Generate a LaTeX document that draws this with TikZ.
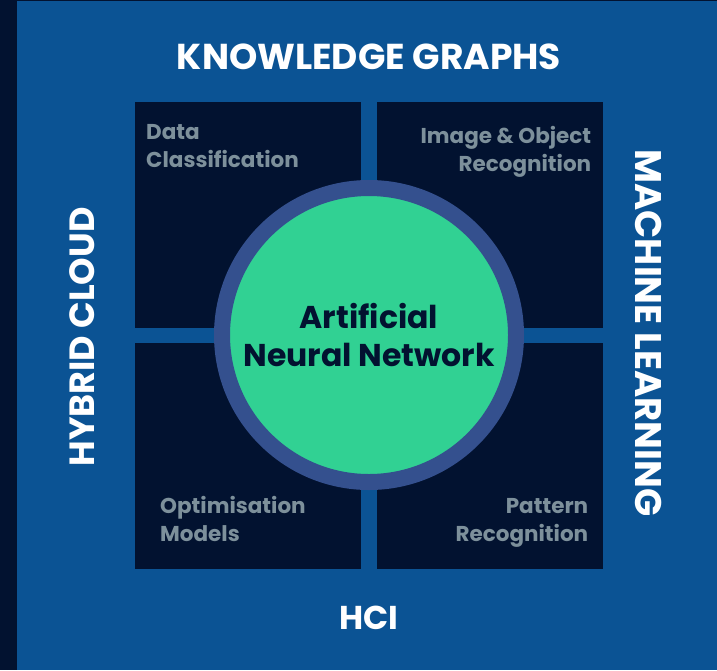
\documentclass[tikz,border=0pt]{standalone}
\usepackage{fontspec}
\setmainfont{Poppins}
\usepackage{xcolor}
\usetikzlibrary{positioning}

\definecolor{bgBlue}{HTML}{0B5394}
\definecolor{navy}{HTML}{021230}
\definecolor{ringBlue}{HTML}{34508E}
\definecolor{annGreen}{HTML}{31D193}
\definecolor{tileGray}{HTML}{7D909B}

\newcommand{\headsize}[1]{\fontsize{#1}{#1}\selectfont\bfseries}

\begin{document}
\begin{tikzpicture}[
  x=1pt, y=-1pt,
  tile/.style={rectangle, fill=navy, inner sep=0pt, minimum width=226pt, minimum height=226pt, anchor=north west},
  tiletext/.style={inner sep=0pt, font=\fontsize{21.5}{28}\selectfont\bfseries, text=tileGray},
  heading/.style={inner sep=0pt, text=white},
  core/.style={circle, fill=annGreen, draw=ringBlue, line width=16pt, minimum size=294pt, inner sep=0pt, align=center, font=\fontsize{31.5}{38}\selectfont\bfseries, text=navy}
]
% background
\fill[navy] (0,0) rectangle (717,670);
\fill[bgBlue] (17,1) rectangle (717,670);
\useasboundingbox (0,0) rectangle (717,670);

% four tiles
\node[tile] (dataTile) at (135,102) {};
\node[tile] (imageTile) at (377,102) {};
\node[tile] (optTile) at (135,343) {};
\node[tile] (patternTile) at (377,343) {};

% tile labels (base = last line)
\node[tiletext, anchor=base west, align=left] (dataText) at ([xshift=11pt, yshift=-65pt]dataTile.north west) {Data\\Classification};
\node[tiletext, anchor=base east, align=right] (imageText) at ([xshift=-12pt, yshift=-69pt]imageTile.north east) {Image \& Object\\Recognition};
\node[tiletext, anchor=base west, align=left] (optText) at ([xshift=25pt, yshift=-198pt]optTile.north west) {Optimisation\\Models};
\node[tiletext, anchor=base east, align=right] (patternText) at ([xshift=-15pt, yshift=-198pt]patternTile.north east) {Pattern\\Recognition};

% centre
\node[core] (ann) at (369,335) {Artificial\\Neural Network};

% side headings
\node[heading, anchor=base, font=\headsize{36}] (kg) at (369,69) {KNOWLEDGE GRAPHS};
\node[heading, anchor=base, font=\headsize{33}] (hci) at (369,629) {HCI};
\node[heading, rotate=90, font=\headsize{35}] (cloud) at (82,337) {HYBRID CLOUD};
\node[heading, rotate=-90, font=\headsize{37}] (ml) at (649,333) {MACHINE LEARNING};
\end{tikzpicture}
\end{document}
